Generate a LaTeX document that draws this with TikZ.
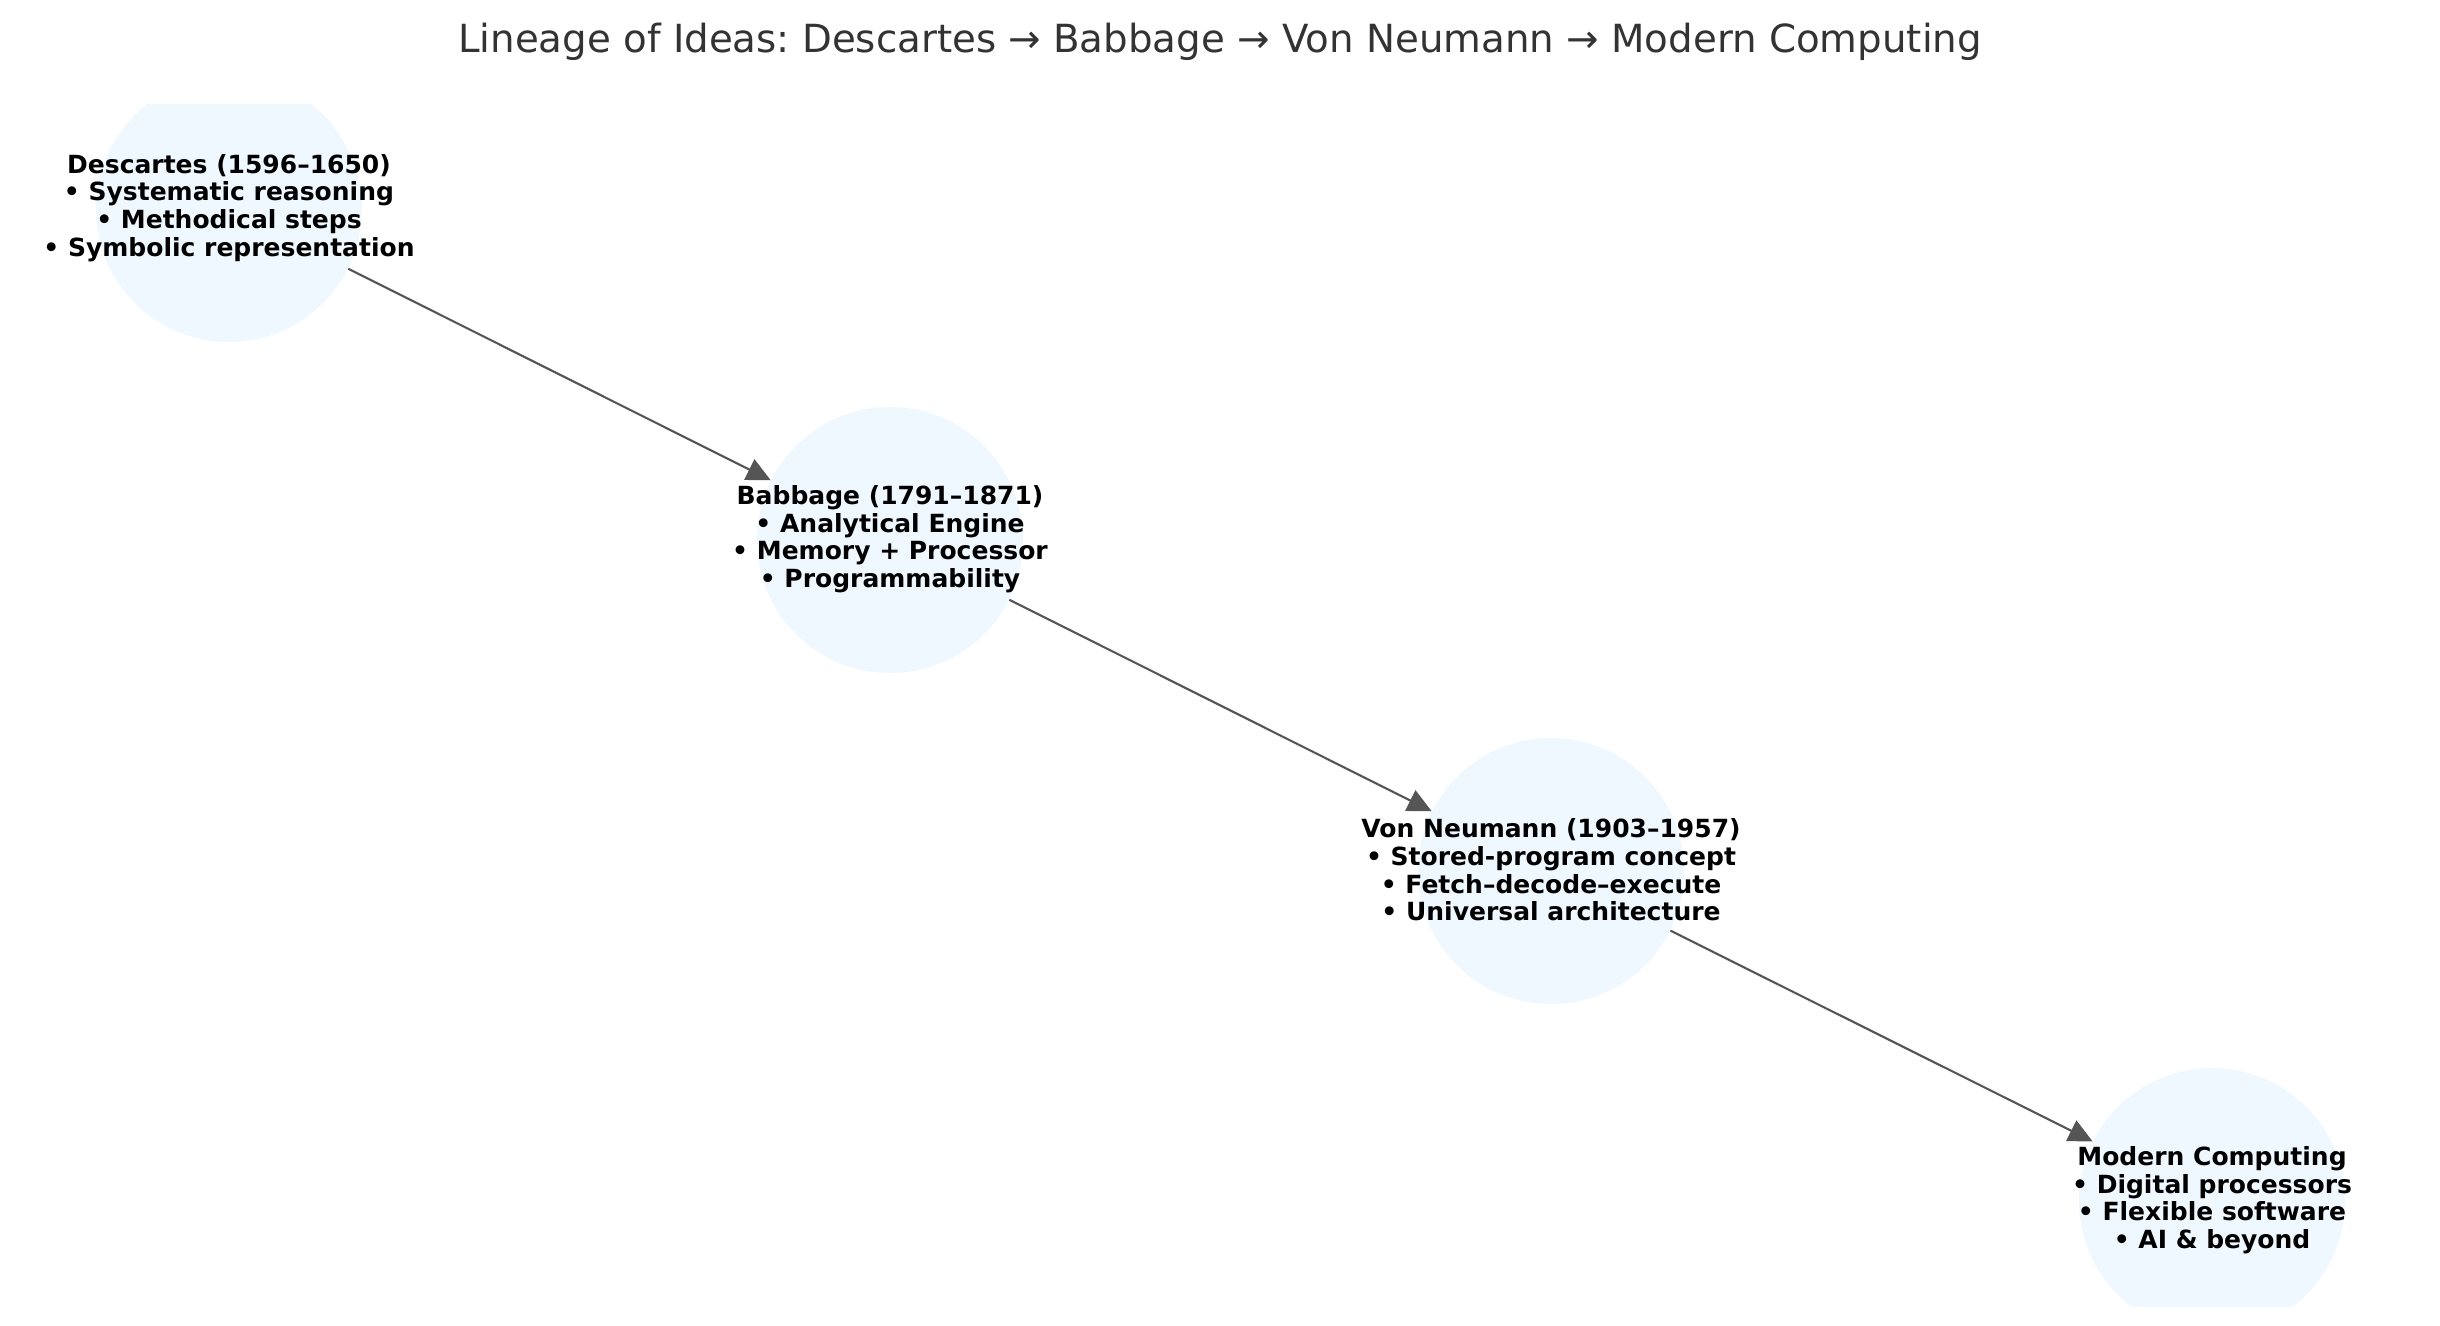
\documentclass[tikz,border=0pt]{standalone}
\usepackage{fontspec}
\setmainfont{DejaVu Sans}
\newfontfamily\lblfont{DejaVu Sans}
\usetikzlibrary{arrows.meta}
\frenchspacing
\definecolor{nodefill}{HTML}{F0F8FF}
\definecolor{edgecol}{HTML}{555555}
\definecolor{titlecol}{HTML}{333333}
\tikzset{
  idea/.style={circle, fill=nodefill, draw=none, inner sep=0pt, minimum size=127.68pt},
  idealabel/.style={align=center, inner sep=0pt, text=black, font=\lblfont\bfseries\fontsize{12}{13.25}\selectfont},
  lineage/.style={draw=edgecol, line width=1pt, -{Triangle[length=11.5pt, width=10.9pt]}},
  titletext/.style={anchor=base, inner sep=0pt, text=titlecol, font=\fontsize{18.6}{22}\selectfont}
}
\begin{document}
\begin{tikzpicture}[x=0.48pt, y=-0.48pt]
\useasboundingbox[fill=white] (0,0) rectangle (2440,1325);
\begin{scope}
\clip (0,104) rectangle (2440,1306);
\node[idea] (d) at (229,209) {};
\node[idea] (b) at (890,540) {};
\node[idea] (v) at (1551,871) {};
\node[idea] (m) at (2212,1201) {};
\end{scope}
\draw[lineage] (d) -- (b);
\draw[lineage] (b) -- (v);
\draw[lineage] (v) -- (m);
\node[idealabel] (dl) at (229,208) {Descartes (1596–1650)\\• Systematic reasoning\\• Methodical steps\\• Symbolic representation};
\node[idealabel] (bl) at (890,539) {Babbage (1791–1871)\\• Analytical Engine\\• Memory + Processor\\• Programmability};
\node[idealabel] (vl) at (1551,870) {Von Neumann (1903–1957)\\• Stored-program concept\\• Fetch–decode–execute\\• Universal architecture};
\node[idealabel] (ml) at (2212,1200) {Modern Computing\\• Digital processors\\• Flexible software\\• AI \& beyond};
\node[titletext] (title) at (1220,52) {Lineage of Ideas: Descartes → Babbage → Von Neumann → Modern Computing};
\end{tikzpicture}
\end{document}
